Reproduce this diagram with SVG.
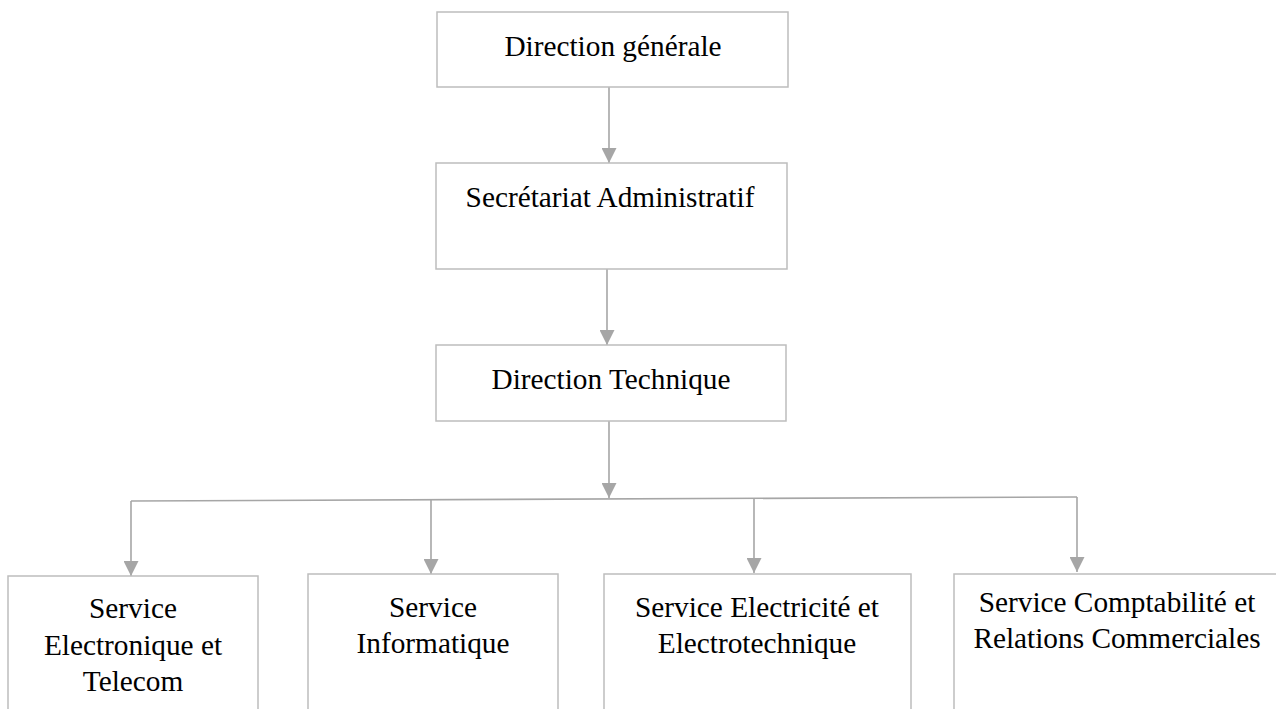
<svg xmlns="http://www.w3.org/2000/svg" width="1276" height="709" viewBox="0 0 1276 709">
  <style>
    .box { fill: #ffffff; stroke: #bdbdbd; stroke-width: 1.5; }
    .lbl { font-family: "Liberation Serif", "Times New Roman", serif; font-size: 29.3px; fill: #000000; text-anchor: middle; }
    .wire { fill: none; stroke: #a6a6a6; stroke-width: 1.6; }
  </style>
  <defs>
    <marker id="arrow" markerUnits="userSpaceOnUse" markerWidth="15" markerHeight="15" viewBox="0 0 15 15" refX="15" refY="7.5" orient="auto">
      <path d="M0,0 L15,7.5 L0,15 Z" fill="#a6a6a6"/>
    </marker>
  </defs>
  <rect width="1276" height="709" fill="#ffffff"/>

  <!-- connectors -->
  <g id="connectors">
    <line class="wire" x1="609" y1="87" x2="609" y2="163" marker-end="url(#arrow)"/>
    <line class="wire" x1="607" y1="269" x2="607" y2="345" marker-end="url(#arrow)"/>
    <line class="wire" x1="609" y1="421" x2="609" y2="498" marker-end="url(#arrow)"/>
    <line class="wire" x1="131" y1="501" x2="1077" y2="497"/>
    <line class="wire" x1="131" y1="501" x2="131" y2="576" marker-end="url(#arrow)"/>
    <line class="wire" x1="431" y1="500" x2="431" y2="574" marker-end="url(#arrow)"/>
    <line class="wire" x1="754" y1="499" x2="754" y2="573" marker-end="url(#arrow)"/>
    <line class="wire" x1="1077" y1="497" x2="1077" y2="572" marker-end="url(#arrow)"/>
  </g>

  <g id="direction-generale">
    <rect class="box" x="437" y="12" width="351" height="75"/>
    <text class="lbl" x="613" y="56">Direction générale</text>
  </g>

  <g id="secretariat">
    <rect class="box" x="436" y="163" width="351" height="106"/>
    <text class="lbl" x="610" y="207">Secrétariat Administratif</text>
  </g>

  <g id="direction-technique">
    <rect class="box" x="436" y="345" width="350" height="76"/>
    <text class="lbl" x="611" y="389">Direction Technique</text>
  </g>

  <g id="service-electronique">
    <rect class="box" x="8" y="576" width="250" height="160"/>
    <text class="lbl" x="133" y="618">Service</text>
    <text class="lbl" x="133" y="655">Electronique et</text>
    <text class="lbl" x="133" y="691">Telecom</text>
  </g>

  <g id="service-informatique">
    <rect class="box" x="308" y="574" width="250" height="160"/>
    <text class="lbl" x="433" y="617">Service</text>
    <text class="lbl" x="433" y="653">Informatique</text>
  </g>

  <g id="service-electricite">
    <rect class="box" x="604" y="574" width="307" height="160"/>
    <text class="lbl" x="757" y="617">Service Electricité et</text>
    <text class="lbl" x="757" y="653">Electrotechnique</text>
  </g>

  <g id="service-comptabilite">
    <rect class="box" x="954" y="574" width="340" height="160"/>
    <text class="lbl" x="1117" y="612">Service Comptabilité et</text>
    <text class="lbl" x="1117" y="648">Relations Commerciales</text>
  </g>
</svg>
